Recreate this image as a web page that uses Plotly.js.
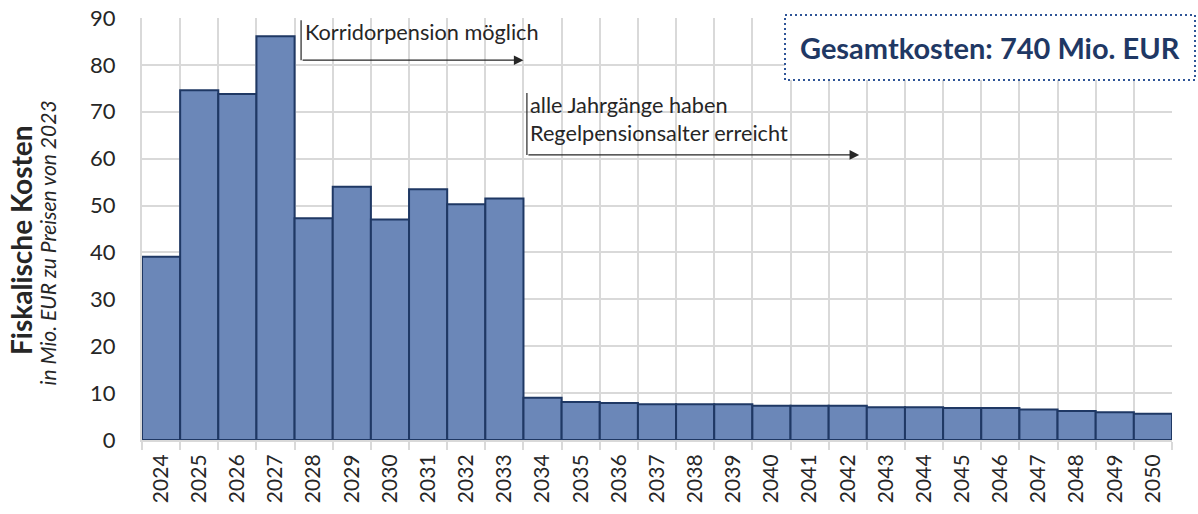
<!DOCTYPE html>
<html><head><meta charset="utf-8">
<script src="https://cdn.plot.ly/plotly-3.0.1.min.js"></script>
<style>body{margin:0;background:#fff}#chart{width:1198px;height:514px}</style>
</head><body><div id="chart"></div>
<script>
const years = ["2024","2025","2026","2027","2028","2029","2030","2031","2032","2033","2034","2035","2036","2037","2038","2039","2040","2041","2042","2043","2044","2045","2046","2047","2048","2049","2050"];
const costs = [39.1,74.6,73.8,86.1,47.3,54.0,47.0,53.5,50.3,51.5,9.0,8.1,7.9,7.6,7.6,7.6,7.3,7.3,7.3,7.0,7.0,6.8,6.8,6.5,6.2,5.9,5.6];
const yTicks = [0,10,20,30,40,50,60,70,80,90];
const totalLabel = "Gesamtkosten: 740 Mio. EUR";
const note1 = "Korridorpension möglich";
const note2 = "alle Jahrgänge haben<br>Regelpensionsalter erreicht";
const titleMain = "Fiskalische Kosten";
const titleSub = "in Mio. EUR zu Preisen von 2023";

const FONT = "Lato, 'Open Sans', sans-serif";
const trace = {
  type: "bar", x: years, y: costs,
  marker: {color: "#6b87b8", line: {color: "#1f3864", width: 2}},
  hoverinfo: "x+y"
};
const layout = {
  width: 1198, height: 514,
  margin: {l: 142, r: 26, t: 18, b: 74},
  paper_bgcolor: "#fff", plot_bgcolor: "#fff",
  bargap: 0, showlegend: false,
  font: {family: FONT, color: "#262626"},
  xaxis: {
    type: "category", tickson: "boundaries", tickangle: -90,
    showgrid: true, gridcolor: "#d9d9d9", gridwidth: 2,
    ticks: "outside", ticklen: 8, tickcolor: "#d9d9d9", tickwidth: 2,
    tickfont: {size: 21, family: FONT, color: "#262626"},
    ticklabelstandoff: 4,
    showline: true, linecolor: "#d9d9d9", linewidth: 2, mirror: false,
    zeroline: false
  },
  yaxis: {
    range: [0, 90], tickvals: yTicks, ticktext: yTicks.map(String),
    showgrid: true, gridcolor: "#d9d9d9", gridwidth: 2,
    tickfont: {size: 22, family: FONT, color: "#262626"},
    ticks: "", ticklabelstandoff: 20, zeroline: false,
    showline: true, linecolor: "#d9d9d9", linewidth: 2
  },
  shapes: [
    {type: "line", xref: "x", yref: "y", x0: 3.67, x1: 3.67, y0: 89.5, y1: 81, line: {color: "#262626", width: 1.2}},
    {type: "line", xref: "x", yref: "y", x0: 9.59, x1: 9.59, y0: 74, y1: 60.8, line: {color: "#262626", width: 1.2}}
  ],
  annotations: [
    {xref: "x", yref: "y", axref: "x", ayref: "y", x: 9.5, y: 81, ax: 3.67, ay: 81, text: "", showarrow: true, arrowhead: 2, arrowsize: 1.6, arrowwidth: 1.2, arrowcolor: "#262626"},
    {xref: "x", yref: "y", axref: "x", ayref: "y", x: 18.3, y: 60.8, ax: 9.59, ay: 60.8, text: "", showarrow: true, arrowhead: 2, arrowsize: 1.6, arrowwidth: 1.2, arrowcolor: "#262626"},
    {xref: "x", yref: "y", x: 3.72, y: 87, xanchor: "left", yanchor: "middle", text: note1, showarrow: false, font: {size: 21.7, family: FONT, color: "#262626"}},
    {xref: "x", yref: "y", x: 9.62, y: 68.4, xanchor: "left", yanchor: "middle", align: "left", text: note2, showarrow: false, font: {size: 21.7, family: FONT, color: "#262626"}},
    {xref: "paper", yref: "paper", x: 1.0233, y: 1.0095, xanchor: "right", yanchor: "top", text: "<b>" + totalLabel + "</b>", showarrow: false,
     font: {size: 29, family: FONT, color: "#1f3864"}, bordercolor: "#2f5597", borderwidth: 2, borderpad: 14, bgcolor: "#fff"},
    {xref: "paper", yref: "paper", x: -0.1175, y: 0.474, xanchor: "center", yanchor: "middle", textangle: -90, text: "<b>" + titleMain + "</b>", showarrow: false, font: {size: 28, family: FONT, color: "#262626"}},
    {xref: "paper", yref: "paper", x: -0.0922, y: 0.466, xanchor: "center", yanchor: "middle", textangle: -90, text: "<i>" + titleSub + "</i>", showarrow: false, font: {size: 21, family: FONT, color: "#262626"}}
  ]
};
Plotly.newPlot("chart", [trace], layout, {displayModeBar: false, staticPlot: true}).then(() => {
  document.querySelectorAll(".annotation-text-g rect.bg").forEach(r => {
    const s = r.getAttribute("style") || "";
    if (s.indexOf("47, 85, 151") >= 0) r.style.strokeDasharray = "2,3";
  });
});
</script></body></html>
